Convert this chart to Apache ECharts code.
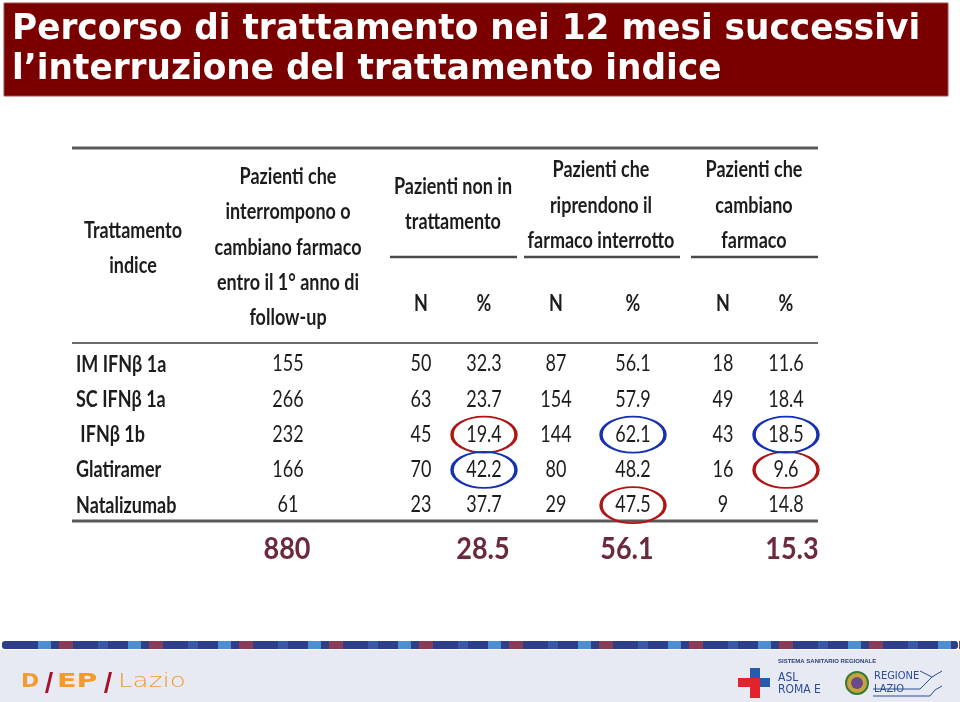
<!DOCTYPE html>
<html>
<head>
<meta charset="utf-8">
<script src="https://cdn.jsdelivr.net/npm/echarts@6/dist/echarts.min.js"></script>
<style>html,body{margin:0;padding:0;background:#fff}#c{width:960px;height:702px}</style>
</head>
<body>
<div id="c"></div>
<script>
// ---- data ----
const treatments = ['IM IFNβ 1a', 'SC IFNβ 1a', ' IFNβ 1b', 'Glatiramer', 'Natalizumab'];
const totalN = [155, 266, 232, 166, 61];
const notTreatedN = [50, 63, 45, 70, 23];
const notTreatedPct = [32.3, 23.7, 19.4, 42.2, 37.7];
const resumeN = [87, 154, 144, 80, 29];
const resumePct = [56.1, 57.9, 62.1, 48.2, 47.5];
const switchN = [18, 49, 43, 16, 9];
const switchPct = [11.6, 18.4, 18.5, 9.6, 14.8];
const totals = ['880', '28.5', '56.1', '15.3'];
// highlighted cells: [column key, row index]
const redMarks = [['notTreatedPct', 2], ['resumePct', 4], ['switchPct', 3]];
const blueMarks = [['notTreatedPct', 3], ['resumePct', 2], ['switchPct', 2]];
const subHeaders = ['N', '%', 'N', '%', 'N', '%'];

// ---- layout (not data) ----
const colX = {label: 76, totalN: 288, notTreatedN: 421, notTreatedPct: 484, resumeN: 556, resumePct: 633, switchN: 723, switchPct: 786};
const totalsX = [287, 483, 627, 792];
const subHeaderX = [421, 484, 556, 633, 723, 786];
const rowsAll = treatments.concat(['']);

const tableFont = "Lato, 'Open Sans', sans-serif";
const txtColor = '#1c1c1c';

function textSeries(data, opt) {
  return {
    type: 'custom', silent: true, z: 3,
    data: data,
    renderItem: function (params, api) {
      const pt = api.coord([api.value(0), api.value(1)]);
      const d = data[params.dataIndex];
      return {
        type: 'text', x: pt[0], y: pt[1] + (opt.dy || 0), scaleX: opt.sx || 1, scaleY: opt.sy || 1,
        style: {text: opt.fmt(d[2]), fill: opt.color || txtColor, font: opt.font,
          align: opt.align || 'center', verticalAlign: 'middle'}
      };
    }
  };
}
function numSeries(key, values, dec) {
  return textSeries(values.map((v, i) => [colX[key], i, v]),
    {font: '18px ' + tableFont, sy: 1.25, fmt: v => dec ? v.toFixed(1) : String(v)});
}
function markSeries(marks, color) {
  return {
    type: 'scatter', symbol: 'circle', symbolSize: [64, 36], silent: true, z: 5,
    data: marks.map(m => [colX[m[0]], m[1]]),
    itemStyle: {color: 'rgba(0,0,0,0)', borderColor: color, borderWidth: 2.6, opacity: 1}
  };
}

const graphics = [];
// title banner
graphics.push({type: 'rect', shape: {x: 4, y: 3, width: 944, height: 93}, style: {fill: '#7a0000', stroke: '#a34a4a', lineWidth: 1}, z: -1});
const titleLines = ['Percorso di trattamento nei 12 mesi successivi', 'l’interruzione del trattamento indice'];
titleLines.forEach((t, i) => graphics.push({type: 'text', x: 12, y: 30 + i * 40, scaleX: 1.04, scaleY: 1.05,
  style: {text: t, fill: '#ffffff', font: "bold 33px 'DejaVu Sans', sans-serif", verticalAlign: 'middle'}}));
// table rules
function hline(x1, x2, y, w, c) { graphics.push({type: 'line', shape: {x1: x1, y1: y, x2: x2, y2: y}, style: {stroke: c, lineWidth: w}}); }
hline(72, 818, 148, 3, '#5a5a5a');
hline(390, 517, 257, 2.5, '#4a4a4a');
hline(524, 680, 257, 2.5, '#4a4a4a');
hline(691, 818, 257, 2.5, '#4a4a4a');
hline(72, 818, 343, 2, '#6a6a6a');
hline(72, 818, 521, 3, '#5a5a5a');
// header texts
const headers = [
  ['Trattamento\nindice', 133, 248],
  ['Pazienti che\ninterrompono o\ncambiano farmaco\nentro il 1° anno di\nfollow-up', 288, 247],
  ['Pazienti non in\ntrattamento', 453, 204],
  ['Pazienti che\nriprendono il\nfarmaco interrotto', 601, 205],
  ['Pazienti che\ncambiano\nfarmaco', 754, 205]
];
headers.forEach(h => graphics.push({type: 'text', x: h[1], y: h[2], scaleY: 1.3,
  style: {text: h[0], fill: txtColor, font: "bold 18px " + tableFont, align: 'center', verticalAlign: 'middle', lineHeight: 27}}));
subHeaders.forEach((s, i) => graphics.push({type: 'text', x: subHeaderX[i], y: 303, scaleY: 1.3,
  style: {text: s, fill: txtColor, font: "bold 18px " + tableFont, align: 'center', verticalAlign: 'middle'}}));

// footer
graphics.push({type: 'rect', shape: {x: 0, y: 650, width: 960, height: 52}, style: {fill: '#e7e9f3'}, z: -1});
graphics.push({type: 'rect', shape: {x: 2, y: 641, width: 956, height: 8, r: 3}, style: {fill: '#2d3f88'}});
for (let k = 0; k < 11; k++) {
  const b = 38 + k * 90;
  graphics.push({type: 'rect', shape: {x: b, y: 641, width: 13, height: 8}, style: {fill: '#4d8fd0'}});
  graphics.push({type: 'rect', shape: {x: b + 21, y: 641, width: 14, height: 8}, style: {fill: '#8c3b56'}});
  graphics.push({type: 'rect', shape: {x: b + 60, y: 641, width: 10, height: 8}, style: {fill: '#3a5aa8'}});
}
// DEP Lazio logo
const logoFont = "900 19px 'DejaVu Sans', sans-serif";
graphics.push({type: 'text', x: 21, y: 682, scaleX: 1.15, style: {text: 'D', fill: '#f39a2c', font: logoFont, verticalAlign: 'middle'}});
graphics.push({type: 'polygon', shape: {points: [[45, 693], [48, 693], [53, 672], [50, 672]]}, style: {fill: '#a5132b'}});
graphics.push({type: 'text', x: 57, y: 682, scaleX: 1.5, style: {text: 'EP', fill: '#f39a2c', font: logoFont, verticalAlign: 'middle'}});
graphics.push({type: 'polygon', shape: {points: [[104, 693], [107, 693], [112, 672], [109, 672]]}, style: {fill: '#a5132b'}});
graphics.push({type: 'text', x: 118, y: 682, scaleX: 1.38, style: {text: 'Lazio', fill: '#f39a2c', font: "200 19px 'DejaVu Sans', sans-serif", verticalAlign: 'middle'}});
// ASL cross
graphics.push({type: 'rect', shape: {x: 750, y: 668, width: 10, height: 10}, style: {fill: '#2b5aa8'}});
graphics.push({type: 'rect', shape: {x: 760, y: 678, width: 10, height: 9}, style: {fill: '#2b5aa8'}});
graphics.push({type: 'rect', shape: {x: 738, y: 678, width: 22, height: 9}, style: {fill: '#e2232b'}});
graphics.push({type: 'rect', shape: {x: 750, y: 687, width: 10, height: 11}, style: {fill: '#e2232b'}});
graphics.push({type: 'text', x: 778, y: 661, style: {text: 'SISTEMA SANITARIO REGIONALE', fill: '#2b3f78', font: "bold 6px 'Liberation Sans', sans-serif", verticalAlign: 'middle'}});
graphics.push({type: 'text', x: 778, y: 684, style: {text: 'ASL\nROMA E', fill: '#2b4c9b', font: "12px 'DejaVu Sans Condensed', sans-serif", verticalAlign: 'middle', lineHeight: 12}});
// Regione Lazio
graphics.push({type: 'circle', shape: {cx: 857, cy: 683, r: 11}, style: {fill: '#c9a23a', stroke: '#3a7a3a', lineWidth: 2}});
graphics.push({type: 'circle', shape: {cx: 857, cy: 683, r: 6}, style: {fill: '#6a4a8a'}});
graphics.push({type: 'text', x: 874, y: 683, style: {text: 'REGIONE\nLAZIO', fill: '#2b4c9b', font: "11px 'DejaVu Sans Condensed', sans-serif", verticalAlign: 'middle', lineHeight: 13}});
graphics.push({type: 'polyline', shape: {points: [[873, 689], [920, 689], [932, 677], [942, 671]]}, style: {stroke: '#2b4c9b', lineWidth: 1, fill: null}});
graphics.push({type: 'polyline', shape: {points: [[873, 696], [930, 696], [935, 690], [942, 686]]}, style: {stroke: '#2b4c9b', lineWidth: 1, fill: null}});
graphics.push({type: 'polyline', shape: {points: [[920, 671], [932, 677]]}, style: {stroke: '#2b4c9b', lineWidth: 1, fill: null}});

const chart = echarts.init(document.getElementById('c'), null, {renderer: 'canvas'});
chart.setOption({
  animation: false,
  backgroundColor: '#ffffff',
  grid: {left: 72, right: 142, top: 346.5, bottom: 144},
  xAxis: {type: 'value', min: 72, max: 818, show: false},
  yAxis: {type: 'category', data: rowsAll, inverse: true, show: false},
  graphic: graphics,
  series: [
    textSeries(treatments.map((t, i) => [colX.label, i, t]),
      {font: 'bold 18px ' + tableFont, sy: 1.3, align: 'left', fmt: v => v}),
    numSeries('totalN', totalN, false),
    numSeries('notTreatedN', notTreatedN, false),
    numSeries('notTreatedPct', notTreatedPct, true),
    numSeries('resumeN', resumeN, false),
    numSeries('resumePct', resumePct, true),
    numSeries('switchN', switchN, false),
    numSeries('switchPct', switchPct, true),
    markSeries(redMarks, '#b01515'),
    markSeries(blueMarks, '#1530b0'),
    textSeries(totals.map((t, i) => [totalsX[i], 5, t]),
      {font: 'bold 27px ' + tableFont, sy: 1.1, dy: 9, color: '#6b2a3c', fmt: v => v})
  ]
});
</script>
</body>
</html>
